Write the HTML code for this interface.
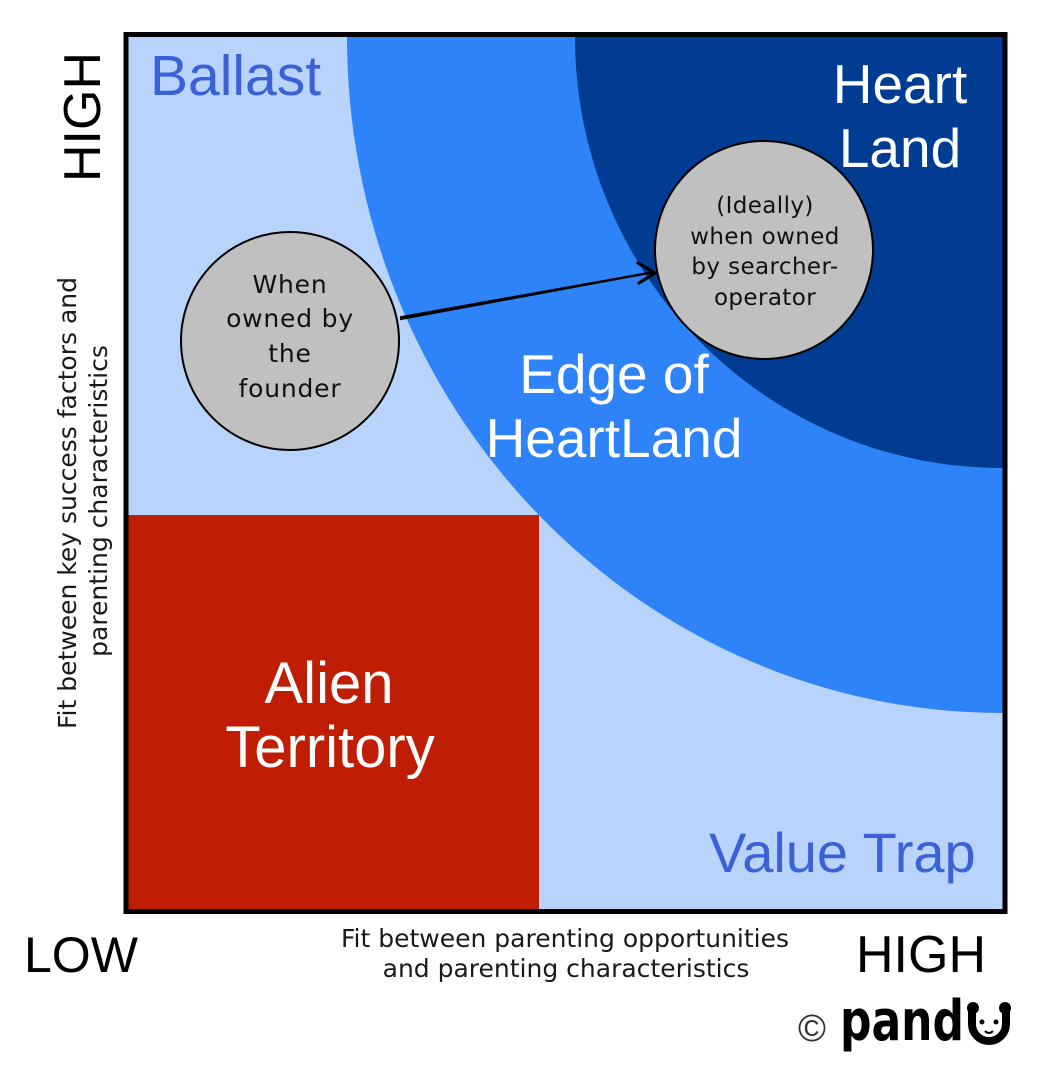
<!DOCTYPE html>
<html>
<head>
<meta charset="utf-8">
<style>
  html, body { margin: 0; padding: 0; background: #ffffff; }
  body { width: 1040px; height: 1066px; overflow: hidden; }
  svg { display: block; }
  .lib { font-family: "Liberation Sans", sans-serif; }
  .dv { font-family: "DejaVu Sans", sans-serif; }
</style>
</head>
<body>
<svg width="1040" height="1066" viewBox="0 0 1040 1066" xmlns="http://www.w3.org/2000/svg">
  <defs>
    <clipPath id="inner">
      <rect x="128" y="37" width="875" height="873"/>
    </clipPath>
  </defs>
  <rect x="0" y="0" width="1040" height="1066" fill="#ffffff"/>

  <!-- background light blue -->
  <rect x="126" y="34.5" width="879" height="877" fill="#b8d4fc"/>

  <g clip-path="url(#inner)">
    <!-- medium blue zone -->
    <ellipse cx="1002" cy="37" rx="655" ry="676" fill="#2e83f8"/>
    <!-- dark blue heartland -->
    <ellipse cx="1002" cy="37" rx="427" ry="431" fill="#003d92"/>
    <!-- red alien territory -->
    <rect x="126" y="515" width="413" height="396" fill="#bf1e04"/>
  </g>

  <!-- frame -->
  <rect x="126" y="34.5" width="879" height="877" fill="none" stroke="#000" stroke-width="5"/>

  <!-- arrow -->
  <polygon points="400,316.3 652,271.2 652,273.6 400,320.2" fill="#000"/>
  <polyline points="638,263 655,273 639,283" fill="none" stroke="#000" stroke-width="3.2" stroke-linecap="round" stroke-linejoin="round"/>

  <!-- circles -->
  <circle cx="290" cy="341" r="109" fill="#c0c0c0" stroke="#000" stroke-width="2"/>
  <circle cx="764" cy="250" r="109" fill="#c0c0c0" stroke="#000" stroke-width="2"/>

  <!-- left circle text -->
  <g class="dv" font-size="25" fill="#111" text-anchor="middle" letter-spacing="0.8">
    <text x="290" y="293">When</text>
    <text x="290" y="327">owned by</text>
    <text x="290" y="362">the</text>
    <text x="290" y="397">founder</text>
  </g>

  <!-- right circle text -->
  <g class="dv" font-size="23" fill="#111" text-anchor="middle" letter-spacing="0.4">
    <text x="765" y="213">(Ideally)</text>
    <text x="765" y="244">when owned</text>
    <text x="765" y="274">by searcher-</text>
    <text x="765" y="305">operator</text>
  </g>

  <!-- zone labels -->
  <text class="lib" x="150" y="95" font-size="57" fill="#3a62d6">Ballast</text>
  <g class="lib" font-size="55" fill="#ffffff" text-anchor="middle">
    <text x="900" y="103">Heart</text>
    <text x="900" y="167">Land</text>
    <text x="614" y="393">Edge of</text>
    <text x="614" y="457">HeartLand</text>
  </g>
  <g class="lib" font-size="58" fill="#ffffff" text-anchor="middle">
    <text x="329" y="703">Alien</text>
    <text x="330" y="767">Territory</text>
  </g>
  <text class="lib" x="709" y="872" font-size="56" fill="#3a62d6">Value Trap</text>

  <!-- axis end labels -->
  <text class="lib" x="24" y="972" font-size="50" fill="#000">LOW</text>
  <text class="lib" x="856" y="972" font-size="52" fill="#000">HIGH</text>
  <text class="lib" transform="translate(100,117) rotate(-90)" text-anchor="middle" font-size="52" fill="#000">HIGH</text>

  <!-- x axis caption -->
  <g class="dv" font-size="25" fill="#1a1a1a" text-anchor="middle">
    <text x="565" y="947">Fit between parenting opportunities</text>
    <text x="566" y="977">and parenting characteristics</text>
  </g>

  <!-- y axis caption -->
  <g class="dv" font-size="25" fill="#1a1a1a" text-anchor="middle">
    <text transform="translate(76,503) rotate(-90)">Fit between key success factors and</text>
    <text transform="translate(107,501) rotate(-90)">parenting characteristics</text>
  </g>

  <!-- copyright logo -->
  <text class="lib" x="812" y="1041" font-size="38" fill="#333" text-anchor="middle">©</text>
  <text x="840" y="1040" font-family="'DejaVu Sans', sans-serif" font-weight="bold" font-size="56" textLength="124" lengthAdjust="spacingAndGlyphs" fill="#000">pand</text>
  <!-- panda face glyph -->
  <g>
    <path d="M972,1012 L972,1024 A17,17 0 0 0 1006,1024 L1006,1012" fill="none" stroke="#000" stroke-width="8" stroke-linecap="round"/>
    <circle cx="973" cy="1008" r="6" fill="#000"/>
    <circle cx="1005" cy="1008" r="6" fill="#000"/>
    <circle cx="982" cy="1022" r="2.5" fill="#000"/>
    <circle cx="996" cy="1022" r="2.5" fill="#000"/>
    <path d="M985,1031 Q989,1035 993,1031" fill="none" stroke="#000" stroke-width="2"/>
  </g>
</svg>
</body>
</html>
